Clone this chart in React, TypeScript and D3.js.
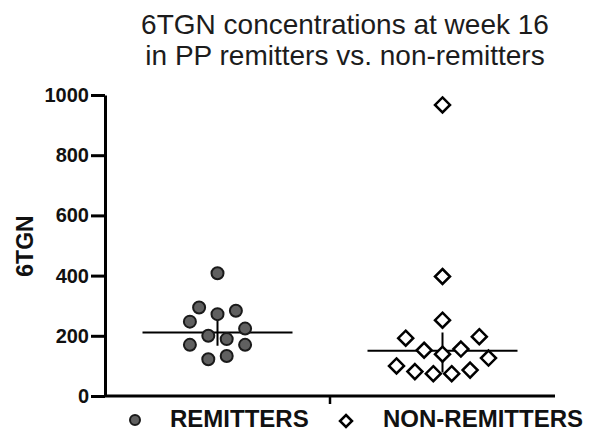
import React, { useRef, useEffect } from "react";
import * as d3 from "d3";

const groups = ["REMITTERS", "NON-REMITTERS"];

// values, with the column slot each point sits in
const remitterValues = [408, 294, 272, 283, 247, 224, 200, 189, 170, 170, 122, 133];
const remitterSlots = [0, -2, 0, 2, -3, 3, -1, 1, -3, 3, -1, 1];

const nonRemitterValues = [967, 397, 252, 192, 197, 152, 139, 156, 126, 100, 81, 74, 74, 86];
const nonRemitterSlots = [0, 0, 0, -4, 4, -2, 0, 2, 5, -5, -3, -1, 1, 3];

// median and interquartile range
const medians = [211, 150];
const lowerQ = [167, 78];
const upperQ = [290, 211];

const yTicks = [0, 200, 400, 600, 800, 1000];
const titleLines = ["6TGN concentrations at week 16", "in PP remitters vs. non-remitters"];

const App = () => {
  const svgRef = useRef<SVGSVGElement>(null);

  useEffect(() => {
    const width = 600;
    const height = 444;
    const svg = d3.select(svgRef.current).attr("width", width).attr("height", height);
    svg.selectAll("*").remove();

    const x = d3.scaleBand().domain(groups).range([105, 555]).padding(0);
    const y = d3.scaleLinear().domain([0, 1000]).range([396, 95]);
    const slotW = 9.2;

    // title
    svg.append("g")
      .selectAll("text")
      .data(titleLines)
      .enter()
      .append("text")
      .attr("x", 345)
      .attr("y", (d, i) => 34 + i * 31)
      .attr("text-anchor", "middle")
      .attr("font-family", "Liberation Sans, Arial, sans-serif")
      .attr("font-size", 28)
      .attr("fill", "#1c1c1c")
      .text(d => d);

    // y axis
    const yAxis = d3.axisLeft(y)
      .tickValues(yTicks)
      .tickFormat(d3.format("d"))
      .tickSize(14)
      .tickSizeOuter(0)
      .tickPadding(2);
    const yg = svg.append("g").attr("transform", "translate(105,0)").call(yAxis);
    yg.select(".domain").attr("stroke", "#000").attr("stroke-width", 3);
    yg.selectAll(".tick line").attr("stroke", "#000").attr("stroke-width", 3);
    yg.selectAll(".tick text")
      .attr("font-family", "Liberation Sans, Arial, sans-serif")
      .attr("font-weight", "bold")
      .attr("font-size", 20)
      .attr("fill", "#111");

    // x axis
    svg.append("line")
      .attr("x1", 104).attr("x2", 555)
      .attr("y1", 396).attr("y2", 396)
      .attr("stroke", "#000").attr("stroke-width", 3);
    svg.append("line")
      .attr("x1", x("NON-REMITTERS")).attr("x2", x("NON-REMITTERS"))
      .attr("y1", 396).attr("y2", 404)
      .attr("stroke", "#000").attr("stroke-width", 2.5);

    // y axis title
    svg.append("text")
      .attr("transform", "translate(32.5,246) rotate(-90)")
      .attr("text-anchor", "middle")
      .attr("font-family", "Liberation Sans, Arial, sans-serif")
      .attr("font-weight", "bold")
      .attr("font-size", 23)
      .attr("fill", "#111")
      .text("6TGN");

    const cx = (g) => x(g) + x.bandwidth() / 2;

    // median lines and IQR bars
    groups.forEach((g, i) => {
      svg.append("line")
        .attr("x1", cx(g) - 75).attr("x2", cx(g) + 75)
        .attr("y1", y(medians[i])).attr("y2", y(medians[i]))
        .attr("stroke", "#000").attr("stroke-width", 2);
      svg.append("line")
        .attr("x1", cx(g)).attr("x2", cx(g))
        .attr("y1", y(upperQ[i])).attr("y2", y(lowerQ[i]))
        .attr("stroke", "#000").attr("stroke-width", 2);
    });

    // remitters: grey dots
    svg.append("g")
      .selectAll("circle")
      .data(remitterValues.map((v, i) => [v, remitterSlots[i]]))
      .enter()
      .append("circle")
      .attr("cx", d => cx("REMITTERS") + d[1] * slotW)
      .attr("cy", d => y(d[0]))
      .attr("r", 6)
      .attr("fill", "#606060")
      .attr("stroke", "#1a1a1a")
      .attr("stroke-width", 2);

    // non-remitters: open diamonds
    const diamond = (s) => `M0,${-s}L${s},0L0,${s}L${-s},0Z`;
    svg.append("g")
      .selectAll("path")
      .data(nonRemitterValues.map((v, i) => [v, nonRemitterSlots[i]]))
      .enter()
      .append("path")
      .attr("transform", d => `translate(${cx("NON-REMITTERS") + d[1] * slotW},${y(d[0])})`)
      .attr("d", diamond(7.5))
      .attr("fill", "#fff")
      .attr("stroke", "#000")
      .attr("stroke-width", 2.5);

    // legend
    const legend = svg.append("g");
    legend.append("circle")
      .attr("cx", 135).attr("cy", 420).attr("r", 5)
      .attr("fill", "#606060").attr("stroke", "#1a1a1a").attr("stroke-width", 2);
    legend.append("path")
      .attr("transform", "translate(346,421)")
      .attr("d", diamond(6))
      .attr("fill", "#fff").attr("stroke", "#000").attr("stroke-width", 2.5);
    legend.selectAll("text")
      .data(groups)
      .enter()
      .append("text")
      .attr("x", (d, i) => (i === 0 ? 170 : 383))
      .attr("y", 427)
      .attr("font-family", "Liberation Sans, Arial, sans-serif")
      .attr("font-weight", "bold")
      .attr("font-size", 24)
      .attr("fill", "#111")
      .text(d => d);
  }, []);

  return <svg ref={svgRef} style={{ position: "absolute", left: 0, top: 0, background: "#fff" }}></svg>;
};

export default App;
